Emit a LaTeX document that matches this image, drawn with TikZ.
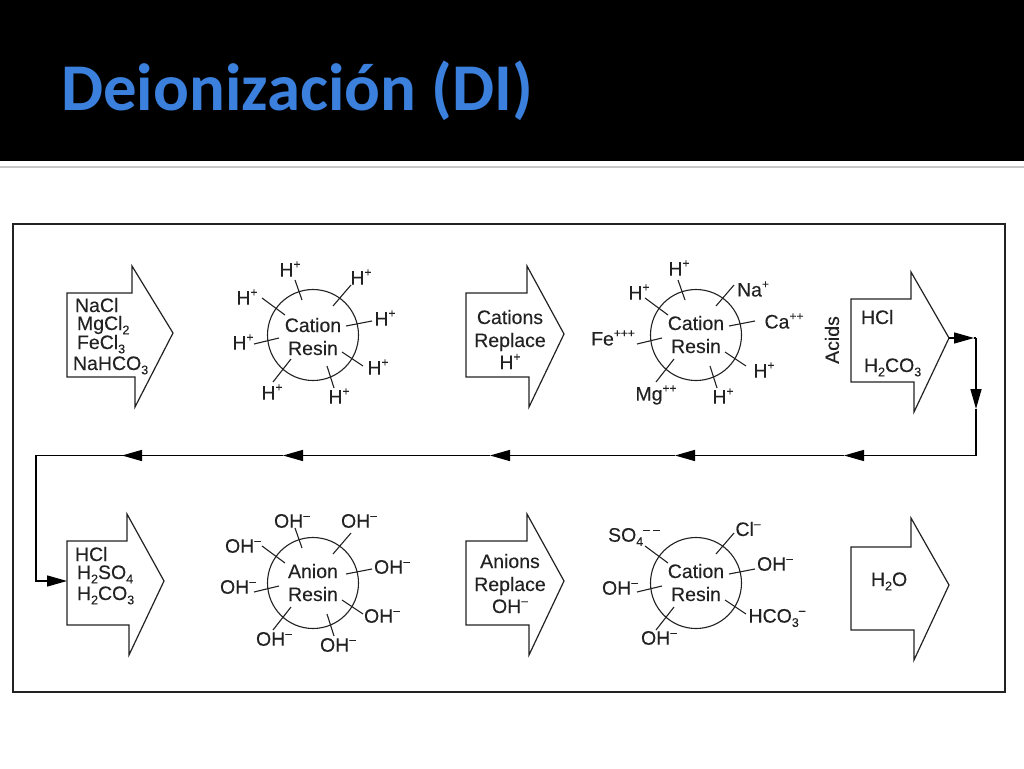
\documentclass[tikz,border=0pt]{standalone}
\usepackage{fontspec}
\setmainfont[FakeBold=0.15]{Liberation Sans}
\newfontfamily\titlefont{Carlito}
\usetikzlibrary{arrows.meta,calc}
\definecolor{ink}{HTML}{222222}
\definecolor{titleblue}{HTML}{3A80DC}
\newcommand\up[1]{\raisebox{0.42em}{\fontsize{12}{12}\selectfont #1}}
\newcommand\dn[1]{\raisebox{-0.22em}{\fontsize{12.5}{12.5}\selectfont #1}}
\tikzset{
  x=1pt,y=-1pt,
  lab/.style={inner sep=0pt,outer sep=0pt,text=ink,font=\fontsize{19.5}{22}\selectfont},
  basew/.style={lab,anchor=base west},
  basec/.style={lab,anchor=base},
  resin/.style={circle,draw=ink,line width=1.1pt,minimum size=91pt,inner sep=0pt},
  tickline/.style={draw=ink,line width=1.1pt},
  block/.style={draw=ink,line width=1.2pt,line join=miter,fill=white},
  flow/.style={draw=black,line width=1.4pt},
  flowtip/.style={flow,-{Triangle[length=20pt,width=11pt]}}
}
\newcommand\tickset[2]{\foreach \ax/\ay/\bx/\by in {#2}{\draw[tickline] ($(#1)+(\ax,\ay)$) -- ($(#1)+(\bx,\by)$);}}
\begin{document}
\begin{tikzpicture}
\useasboundingbox (0,0) rectangle (1024,768);
\fill[white] (0,0) rectangle (1024,768);
\fill[black] (0,0) rectangle (1024,160.5);
\fill[black!22] (0,165.5) rectangle (1024,167.5);
\node[inner sep=0pt,anchor=base west,text=titleblue,font=\titlefont\bfseries\fontsize{66.8}{68}\selectfont] (title) at (61,110) {Deionización (DI)};
\draw[ink,line width=1.5pt] (13,224) rectangle (1005,692);

% block arrows
\draw[block] (67,293)--(132,293)--(132,266)--(173,333)--(135,407)--(135,377)--(67,377)--cycle;
\draw[block] (466,293)--(527,293)--(527,266)--(564,334)--(529,407)--(529,377)--(466,377)--cycle;
\draw[block] (851,299)--(911,299)--(911,272)--(949,338)--(914,412)--(914,382)--(851,382)--cycle;
\draw[block] (67,541)--(127,541)--(127,514)--(164,581)--(129,655)--(129,625)--(67,625)--cycle;
\draw[block] (466,541)--(527,541)--(527,514)--(564,581)--(529,655)--(529,625)--(466,625)--cycle;
\draw[block] (851,547)--(911,547)--(911,518)--(949,585)--(914,660)--(914,630)--(851,630)--cycle;

% resin circles
\node[resin] (c1) at (313,335) {};
\node[resin] (c2) at (696,335) {};
\node[resin] (c3) at (313,583) {};
\node[resin] (c4) at (696,583) {};
\tickset{c1}{-18/-55/-11/-35,38/-50/20/-29,59/-14/33/-9,50/31/29/17,21/53/14/31,-40/47/-22/24,-59/9/-34/3,-51/-37/-28/-20}
\tickset{c2}{-18/-55/-11/-35,38/-50/20/-29,59/-14/33/-9,50/31/29/17,21/53/14/31,-40/47/-22/24,-59/9/-34/3,-51/-37/-28/-20}
\tickset{c3}{-18/-55/-11/-35,38/-50/20/-29,59/-14/33/-9,50/31/29/17,21/53/14/31,-40/47/-22/24,-59/9/-34/3,-51/-37/-28/-20}
\tickset{c4}{38/-50/20/-29,59/-14/33/-9,50/31/29/17,-40/47/-22/24,-59/9/-34/3,-51/-37/-28/-20}

% circle captions
\node[basec] (c1a) at (313,332) {Cation};
\node[basec] (c1b) at (313,355) {Resin};
\node[basec] (c2a) at (696,330) {Cation};
\node[basec] (c2b) at (696,353) {Resin};
\node[basec] (c3a) at (313,578) {Anion};
\node[basec] (c3b) at (313,601) {Resin};
\node[basec] (c4a) at (696,578) {Cation};
\node[basec] (c4b) at (696,601) {Resin};

% ions circle 1
\node[lab] (i11) at (290,269) {H\up{+}};
\node[lab] (i12) at (361,277) {H\up{+}};
\node[lab] (i13) at (385,318) {H\up{+}};
\node[lab] (i14) at (378,367) {H\up{+}};
\node[lab] (i15) at (339,396) {H\up{+}};
\node[lab] (i16) at (272,392) {H\up{+}};
\node[lab] (i17) at (243,342) {H\up{+}};
\node[lab] (i18) at (247,297) {H\up{+}};
% ions circle 2
\node[lab] (i21) at (679,268) {H\up{+}};
\node[lab] (i22) at (753,289) {Na\up{+}};
\node[lab] (i23) at (784,321) {Ca\up{++}};
\node[lab] (i24) at (764,370) {H\up{+}};
\node[lab] (i25) at (723,396) {H\up{+}};
\node[lab] (i26) at (656,395) {Mg\up{++}};
\node[lab] (i27) at (613,338) {Fe\up{+++}};
\node[lab] (i28) at (639,292) {H\up{+}};
% ions circle 3
\node[lab] (i31) at (292,521) {OH\up{–}};
\node[lab] (i32) at (359,521) {OH\up{–}};
\node[lab] (i33) at (392,567) {OH\up{–}};
\node[lab] (i34) at (382,616) {OH\up{–}};
\node[lab] (i35) at (338,645) {OH\up{–}};
\node[lab] (i36) at (274,639) {OH\up{–}};
\node[lab] (i37) at (238,587) {OH\up{–}};
\node[lab] (i38) at (243,546) {OH\up{–}};
% ions circle 4
\node[lab] (i41) at (748,529) {Cl\up{–}};
\node[lab] (i42) at (775,564) {OH\up{–}};
\node[lab] (i43) at (777,618) {HCO\dn{3}\up{–}};
\node[lab] (i44) at (659,638) {OH\up{–}};
\node[lab] (i45) at (620,588) {OH\up{–}};
\node[lab] (i46) at (634,537) {SO\dn{4}\up{– –}};

% block texts
\node[basew] (t11) at (75,312) {NaCl};
\node[basew] (t12) at (77,330) {MgCl\dn{2}};
\node[basew] (t13) at (77,349) {FeCl\dn{3}};
\node[basew] (t14) at (73,370) {NaHCO\dn{3}};
\node[basec] (t21) at (510,324) {Cations};
\node[basec] (t22) at (510,347) {Replace};
\node[basec] (t23) at (510,369) {H\up{+}};
\node[lab,rotate=90] (t31) at (832,340) {Acids};
\node[basew] (t32) at (861,324) {HCl};
\node[basew] (t33) at (864,372) {H\dn{2}CO\dn{3}};
\node[basew] (t41) at (75,561) {HCl};
\node[basew] (t42) at (77,579) {H\dn{2}SO\dn{4}};
\node[basew] (t43) at (77,600) {H\dn{2}CO\dn{3}};
\node[basec] (t51) at (510,568) {Anions};
\node[basec] (t52) at (510,591) {Replace};
\node[basec] (t53) at (510,613) {OH\up{–}};
\node[basew] (t61) at (871,586) {H\dn{2}O};

% connector
\coordinate (start) at (949,338);
\coordinate (h1) at (974,338);
\coordinate (cr) at (976,338);
\coordinate (h2) at (976,409);
\coordinate (br) at (976,455.5);
\coordinate (h3) at (844,455.5);
\coordinate (h4) at (675,455.5);
\coordinate (h5) at (490,455.5);
\coordinate (h6) at (283,455.5);
\coordinate (h7) at (122,455.5);
\coordinate (bl) at (36,455.5);
\coordinate (cl) at (36,581);
\coordinate (endp) at (67,581);
\draw[flowtip] (start) -- (h1);
\draw[flow] (h1) -- (cr);
\draw[flowtip] (cr) -- (h2);
\draw[flow] (h2) -- (br);
\draw[flowtip] (br) -- (h3);
\draw[flowtip] (h3) -- (h4);
\draw[flowtip] (h4) -- (h5);
\draw[flowtip] (h5) -- (h6);
\draw[flowtip] (h6) -- (h7);
\draw[flow,line cap=rect] (h7) -- (bl) -- (cl) -- +(6,0);
\draw[flowtip] (cl) -- (endp);
\end{tikzpicture}
\end{document}
